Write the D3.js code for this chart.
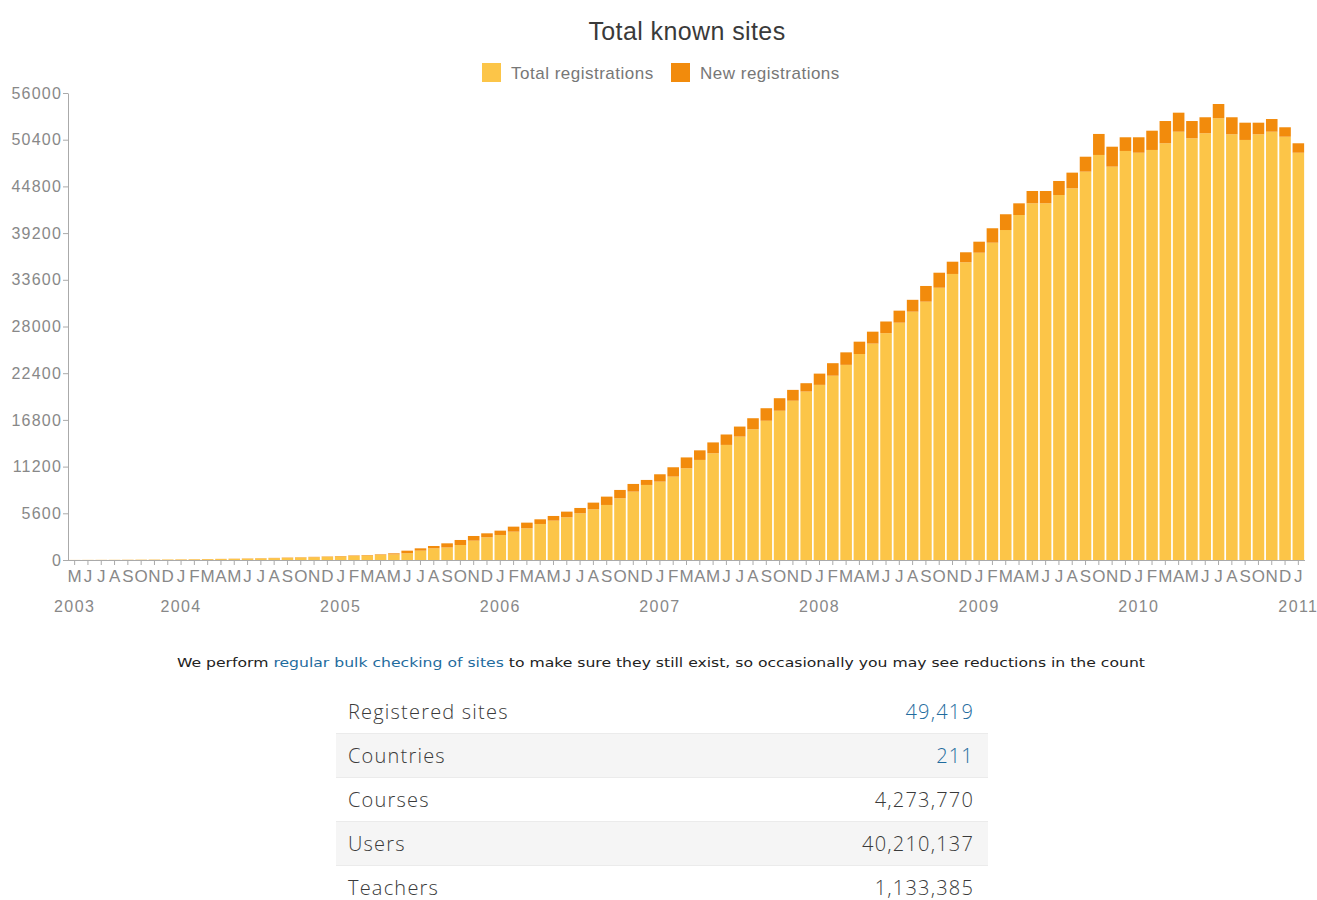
<!DOCTYPE html>
<html><head><meta charset="utf-8">
<script src="https://cdn.jsdelivr.net/npm/d3@7"></script>
<style>
html,body{margin:0;padding:0;background:#fff;}
svg{display:block;}
</style></head>
<body>
<svg id="chart" width="1317" height="900"></svg>
<script>
// ---- data ----
const firstMonth = new Date(2003, 4, 1);
const lastMonth = new Date(2011, 0, 1);
const monthLetters = ["J","F","M","A","M","J","J","A","S","O","N","D"];
const yTicks = [0, 5600, 11200, 16800, 22400, 28000, 33600, 39200, 44800, 50400, 56000];
const yearLabels = ["2003","2004","2005","2006","2007","2008","2009","2010","2011"];
const seriesNames = ["Total registrations", "New registrations"];
// Total registrations (lower, light segment), May 2003 .. Jan 2011
const totalRegs = [
  5, 10, 15, 20, 25, 35, 45, 55,
  65, 80, 95, 115, 135, 160, 190, 220, 255, 295, 335, 380,
  425, 480, 540, 600, 670, 800, 1120, 1400, 1500, 1800, 2320, 2720,
  3000, 3400, 3800, 4320, 4720, 5120, 5600, 6080, 6600, 7400, 8200, 9000,
  9400, 10000, 11000, 12000, 12800, 13800, 14800, 15680, 16700, 17900, 19100, 20200,
  21000, 22100, 23400, 24700, 25950, 27200, 28460, 29780, 30980, 32650, 34300, 35700,
  36850, 38050, 39570, 41370, 42770, 42770, 43770, 44570, 46570, 48570, 47170, 49050,
  48840, 49170, 49970, 51360, 50570, 51170, 52970, 51050, 50370, 51050, 51360, 50760,
  48840
];
// New registrations (upper, dark segment)
const newRegs = [
  5, 5, 5, 5, 10, 10, 10, 10,
  15, 15, 20, 20, 25, 30, 30, 35, 40, 40, 45, 45,
  55, 60, 60, 70, 130, 320, 280, 280, 500, 600, 560, 480,
  520, 600, 680, 560, 560, 680, 640, 800, 1000, 1000, 920, 600,
  880, 1120, 1300, 1150, 1300, 1250, 1200, 1320, 1500, 1500, 1300, 1000,
  1350, 1500, 1500, 1480, 1430, 1400, 1440, 1420, 1880, 1800, 1470, 1200,
  1320, 1730, 1890, 1400, 1480, 1480, 1680, 1880, 1790, 2520, 2390, 1640,
  1850, 2310, 2670, 2280, 2070, 1920, 1710, 2040, 2070, 1390, 1520, 1130,
  1130
];
const statLabels = ["Registered sites", "Countries", "Courses", "Users", "Teachers"];
const statValues = ["49,419", "211", "4,273,770", "40,210,137", "1,133,385"];
const statIsLink = [true, true, false, false, false];

// ---- build ----
const months = d3.timeMonth.range(firstMonth, d3.timeMonth.offset(lastMonth, 1));
const keys = months.map(d => d3.timeFormat("%Y-%m")(d));
const rows = keys.map((k, i) => ({ key: k, date: months[i], total: totalRegs[i], fresh: newRegs[i] }));
const stack = d3.stack().keys(["total", "fresh"])(rows);

const colors = ["#FCC548", "#F28B0C"];
const svg = d3.select("#chart");
const font = "'Liberation Sans', Arial, sans-serif";

const x = d3.scaleBand().domain(keys).range([68, 1305]).paddingInner(0.13).paddingOuter(0.065);
const y = d3.scaleLinear().domain([0, 56000]).range([560, 93]);

// title
svg.append("text").attr("x", 687).attr("y", 40).attr("text-anchor", "middle")
  .attr("font-family", font).attr("font-size", 25).attr("letter-spacing", 0.4)
  .attr("fill", "#3a3a3a").text("Total known sites");

// legend
const legX = [482, 671];
seriesNames.forEach((n, i) => {
  svg.append("rect").attr("x", legX[i]).attr("y", 63).attr("width", 19).attr("height", 19).attr("fill", colors[i]);
  svg.append("text").attr("x", legX[i] + 29).attr("y", 79).attr("font-family", font)
    .attr("font-size", 17).attr("letter-spacing", 0.5).attr("fill", "#777").text(n);
});

// bars
svg.append("g").selectAll("g").data(stack).join("g").attr("fill", (d, i) => colors[i])
  .selectAll("rect").data(d => d).join("rect")
  .attr("x", d => x(d.data.key))
  .attr("width", x.bandwidth())
  .attr("y", d => y(d[1]))
  .attr("height", d => Math.max(0, y(d[0]) - y(d[1])));

// y axis
const yAxis = svg.append("g").attr("transform", "translate(68,0)")
  .call(d3.axisLeft(y).tickValues(yTicks).tickSize(5).tickSizeOuter(0).tickPadding(1).tickFormat(d3.format("d")));
yAxis.selectAll("text").attr("font-family", font).attr("font-size", 16).attr("letter-spacing", 1.2).attr("fill", "#888");
yAxis.selectAll("line, path").attr("stroke", "#aaa");

// x axis
const xAxis = svg.append("g").attr("transform", "translate(0,560)")
  .call(d3.axisBottom(x).tickSize(5).tickSizeOuter(0).tickPadding(5)
    .tickFormat(k => monthLetters[+k.slice(5) - 1]));
xAxis.select("path").attr("stroke", "#aaa").attr("d", "M68,0.5H1305");
xAxis.selectAll("line").attr("stroke", "#aaa");
xAxis.selectAll("text").attr("font-family", font).attr("font-size", 17).attr("fill", "#888");

// year labels
yearLabels.forEach((yr, i) => {
  const k = i === 0 ? keys[0] : yr + "-01";
  svg.append("text").attr("x", x(k) + x.bandwidth() / 2).attr("y", 612)
    .attr("text-anchor", "middle").attr("font-family", font).attr("font-size", 16)
    .attr("letter-spacing", 1.4).attr("fill", "#888").text(yr);
});

// note
const note = svg.append("text").attr("x", 177).attr("y", 667)
  .attr("font-family", "'DejaVu Sans Condensed','DejaVu Sans',sans-serif").attr("font-size", 13)
  .attr("fill", "#222").attr("textLength", 968).attr("lengthAdjust", "spacingAndGlyphs");
note.append("tspan").text("We perform ");
note.append("tspan").attr("fill", "#1f6c9e").text("regular bulk checking of sites");
note.append("tspan").text(" to make sure they still exist, so occasionally you may see reductions in the count");

// stats table
const tX0 = 336, tX1 = 988, rowH = 44, tY0 = 690;
statLabels.forEach((lab, i) => {
  const ry = tY0 + i * rowH;
  svg.append("rect").attr("x", tX0).attr("y", ry).attr("width", tX1 - tX0).attr("height", rowH)
    .attr("fill", i % 2 === 1 ? "#f5f5f5" : "#ffffff");
  if (i < statLabels.length - 1) {
    svg.append("rect").attr("x", tX0).attr("y", ry + rowH - 1).attr("width", tX1 - tX0).attr("height", 2)
      .attr("fill", "#ebebeb");
  }
  svg.append("text").attr("x", 348).attr("y", ry + 29).attr("font-family", "'Open Sans', sans-serif")
    .attr("font-weight", 300).attr("font-size", 20).attr("letter-spacing", 1.2).attr("fill", "#3a3a3a").text(lab);
  svg.append("text").attr("x", 974).attr("y", ry + 29).attr("text-anchor", "end")
    .attr("font-family", "'Open Sans', sans-serif").attr("font-weight", 300).attr("font-size", 20)
    .attr("letter-spacing", 1.2)
    .attr("fill", statIsLink[i] ? "#1f6c9e" : "#3a3a3a").text(statValues[i]);
});
</script>
</body></html>
